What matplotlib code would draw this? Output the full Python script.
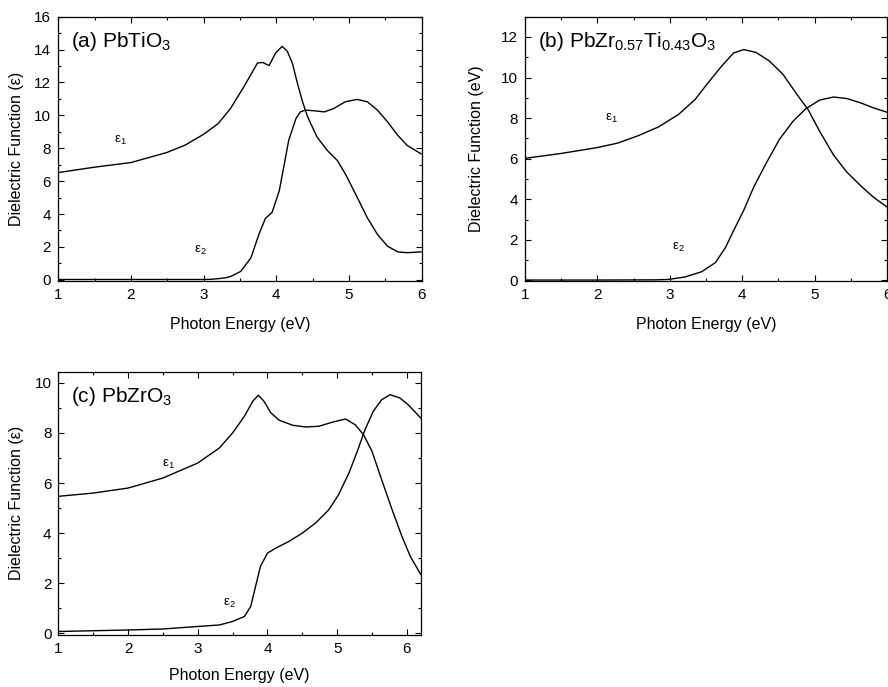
"""
Dielectric function of PbTiO3, PbZr0.57Ti0.43O3 and PbZrO3 (three panels).
"""

import matplotlib

matplotlib.use("Agg")
import matplotlib.pyplot as plt
from matplotlib.ticker import MultipleLocator

plt.rcParams["font.family"] = ["Liberation Sans", "DejaVu Sans"]
plt.rcParams["mathtext.fontset"] = "custom"
plt.rcParams["mathtext.rm"] = "Liberation Sans"
plt.rcParams["mathtext.it"] = "Liberation Sans"

# (a) PbTiO3
a_e1_x = [1.0, 1.5, 2.0, 2.5, 2.75, 3.0, 3.2, 3.37, 3.555, 3.74, 3.81, 3.9, 3.99, 4.08,
          4.15, 4.22, 4.29, 4.36, 4.43, 4.56, 4.7, 4.84, 4.95, 5.09, 5.25, 5.39, 5.53,
          5.67, 5.8, 5.99]
a_e1_y = [6.52, 6.85, 7.13, 7.75, 8.2, 8.85, 9.5, 10.42, 11.75, 13.18, 13.22, 13.03, 13.79,
          14.2, 13.9, 13.18, 11.95, 10.83, 9.91, 8.68, 7.87, 7.25, 6.43, 5.21, 3.78, 2.76,
          2.04, 1.7, 1.65, 1.7]
a_e2_x = [1.0, 2.0, 3.0, 3.1, 3.2, 3.3, 3.37, 3.51, 3.65, 3.76, 3.85, 3.94, 4.04, 4.11,
          4.17, 4.27, 4.33, 4.4, 4.52, 4.66, 4.79, 4.95, 5.11, 5.25, 5.39, 5.53, 5.67,
          5.8, 5.99]
a_e2_y = [0.02, 0.02, 0.02, 0.03, 0.07, 0.12, 0.2, 0.51, 1.33, 2.76, 3.74, 4.09, 5.41, 7.05,
          8.48, 9.81, 10.21, 10.32, 10.28, 10.21, 10.42, 10.83, 10.97, 10.83, 10.32, 9.6,
          8.78, 8.17, 7.66]

# (b) PbZr0.57Ti0.43O3
b_e1_x = [1.0, 1.5, 2.0, 2.28, 2.56, 2.84, 3.12, 3.35, 3.53, 3.72, 3.88, 4.02, 4.19, 4.37,
          4.56, 4.74, 4.91, 5.07, 5.26, 5.44, 5.63, 5.81, 6.0]
b_e1_y = [6.02, 6.26, 6.55, 6.77, 7.13, 7.56, 8.18, 8.92, 9.75, 10.58, 11.21, 11.38, 11.24,
          10.83, 10.17, 9.25, 8.42, 7.35, 6.19, 5.36, 4.69, 4.11, 3.62]
b_e2_x = [1.0, 2.0, 2.8, 2.98, 3.21, 3.44, 3.63, 3.77, 3.88, 4.02, 4.16, 4.33, 4.51, 4.7,
          4.88, 5.07, 5.26, 5.44, 5.63, 5.81, 6.0]
b_e2_y = [0.02, 0.02, 0.03, 0.05, 0.17, 0.43, 0.88, 1.63, 2.45, 3.45, 4.61, 5.77, 6.93, 7.84,
          8.47, 8.89, 9.04, 8.97, 8.76, 8.51, 8.29]

# (c) PbZrO3
c_e1_x = [1.0, 1.5, 2.0, 2.5, 3.0, 3.31, 3.5, 3.67, 3.79, 3.87, 3.95, 4.05, 4.17, 4.36,
          4.55, 4.74, 4.93, 5.12, 5.26, 5.38, 5.5, 5.64, 5.79, 5.93, 6.05, 6.2]
c_e1_y = [5.47, 5.6, 5.8, 6.2, 6.8, 7.4, 8.0, 8.67, 9.27, 9.51, 9.27, 8.8, 8.51, 8.31,
          8.24, 8.27, 8.43, 8.56, 8.33, 7.93, 7.27, 6.13, 4.93, 3.87, 3.07, 2.35]
c_e2_x = [1.0, 2.0, 2.5, 3.0, 3.31, 3.5, 3.67, 3.76, 3.83, 3.9, 4.0, 4.12, 4.31, 4.5,
          4.69, 4.88, 5.02, 5.17, 5.29, 5.4, 5.52, 5.64, 5.76, 5.9, 6.02, 6.2]
c_e2_y = [0.07, 0.13, 0.17, 0.27, 0.33, 0.47, 0.67, 1.07, 1.87, 2.67, 3.2, 3.4, 3.67, 4.0,
          4.4, 4.93, 5.53, 6.4, 7.27, 8.13, 8.87, 9.33, 9.53, 9.4, 9.13, 8.6]

panels = [
    # rect, title, ylabel, xlim, ylim, e1, e2, e1 label pos, e2 label pos, label coords
    ([0.0655, 0.5903, 0.4095, 0.3854], r"(a) PbTiO$_3$", "Dielectric Function (ε)",
     (1, 6), (-0.1, 16), (a_e1_x, a_e1_y), (a_e2_x, a_e2_y), (1.85, 8.5), (2.95, 1.8),
     (-0.094, -0.134)),
    ([0.5912, 0.5903, 0.4077, 0.3854], r"(b) PbZr$_{0.57}$Ti$_{0.43}$O$_3$",
     "Dielectric Function (eV)", (1, 6), (-0.05, 13), (b_e1_x, b_e1_y), (b_e2_x, b_e2_y),
     (2.2, 8.0), (3.12, 1.65), (-0.113, -0.134)),
    ([0.0657, 0.0757, 0.4081, 0.3833], r"(c) PbZrO$_3$", "Dielectric Function (ε)",
     (1, 6.2), (-0.07, 10.45), (c_e1_x, c_e1_y), (c_e2_x, c_e2_y), (2.58, 6.73), (3.46, 1.2),
     (-0.094, -0.125)),
]

fig = plt.figure(figsize=(8.88, 6.87), dpi=100)

for rect, title, ylabel, xlim, ylim, e1, e2, p1, p2, lab in panels:
    ax = fig.add_axes(rect)
    ax.plot(e1[0], e1[1], color="black", lw=1.0)
    ax.plot(e2[0], e2[1], color="black", lw=1.0)
    ax.set_xlim(*xlim)
    ax.set_ylim(*ylim)
    ax.xaxis.set_major_locator(MultipleLocator(1))
    ax.xaxis.set_minor_locator(MultipleLocator(0.5))
    ax.yaxis.set_major_locator(MultipleLocator(2))
    ax.yaxis.set_minor_locator(MultipleLocator(1))
    ax.tick_params(which="both", direction="in", top=True, right=True, labelsize=11,
                   width=0.8, pad=5)
    ax.tick_params(which="major", length=4)
    ax.tick_params(which="minor", length=2.5)
    for s in ax.spines.values():
        s.set_linewidth(0.9)
    ax.set_xlabel("Photon Energy (eV)", fontsize=11.5)
    ax.set_ylabel(ylabel, fontsize=11.5)
    ax.yaxis.set_label_coords(lab[0], 0.5)
    ax.xaxis.set_label_coords(0.5, lab[1])
    ax.text(0.035, 0.905, title, transform=ax.transAxes, fontsize=15, va="center", ha="left")
    ax.text(p1[0], p1[1], r"ε$_1$", fontsize=9.5, ha="center", va="center")
    ax.text(p2[0], p2[1], r"ε$_2$", fontsize=9.5, ha="center", va="center")

plt.savefig("out.png", dpi=100)
print("Saved: out.png")
